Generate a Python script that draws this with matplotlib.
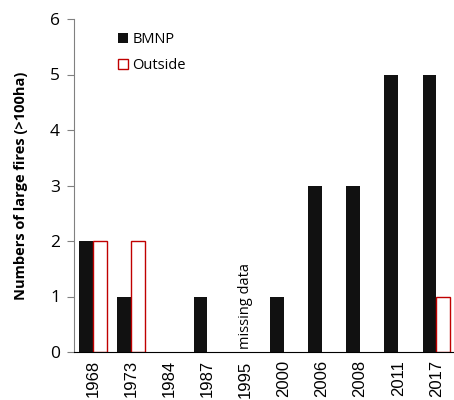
import matplotlib
matplotlib.use('Agg')
import matplotlib.pyplot as plt
import numpy as np

years = ['1968', '1973', '1984', '1987', '1995', '2000', '2006', '2008', '2011', '2017']
bmnp = [2, 1, 0, 1, np.nan, 1, 3, 3, 5, 5]
outside = [2, 2, 0, 0, np.nan, 0, 0, 0, 0, 1]

fig = plt.figure(figsize=(4.54, 4.0), dpi=100)
ax = fig.add_axes([0.163, 0.12, 0.84, 0.8325])

x = np.arange(len(years))
w = 0.36
# zero-height bars would leave an outline on the axis, so skip them
b = np.array(bmnp, dtype=float)
o = np.array(outside, dtype=float)
b[b == 0] = np.nan
o[o == 0] = np.nan
ax.bar(x - w / 2, b, w, color='#111111', label='BMNP')
ax.bar(x + w / 2, o, w, color='white', edgecolor='#c00000', linewidth=1, label='Outside')

ax.set_xlim(-0.5, 9.5)
ax.set_ylim(0, 6)
ax.set_xticks(x)
ax.set_xticklabels(years, rotation=90, fontsize=12, family='Liberation Sans')
ax.set_yticks(range(0, 7))
ax.set_yticklabels([str(i) for i in range(0, 7)], fontsize=12.5, family='Open Sans')
ax.tick_params(axis='x', length=0, pad=6)
ax.tick_params(axis='y', direction='out', length=5, color='#808080', pad=5)

ax.spines['top'].set_visible(False)
ax.spines['right'].set_visible(False)
ax.spines['left'].set_color('#808080')
ax.spines['bottom'].set_color('black')

ax.set_ylabel('Numbers of large fires (>100ha)', fontsize=10.5, fontweight='bold',
              family='Open Sans', labelpad=16)

ax.text(4, 0.05, 'missing data', rotation=90, ha='center', va='bottom',
        fontsize=10.5, family='Open Sans')

ax.legend(loc='upper left', bbox_to_anchor=(0.08, 1.0), frameon=False,
          handlelength=0.7, handleheight=0.7, handletextpad=0.3,
          labelspacing=0.75, prop={'family': 'Open Sans', 'size': 10.5})

fig.savefig('out.png', dpi=100)
